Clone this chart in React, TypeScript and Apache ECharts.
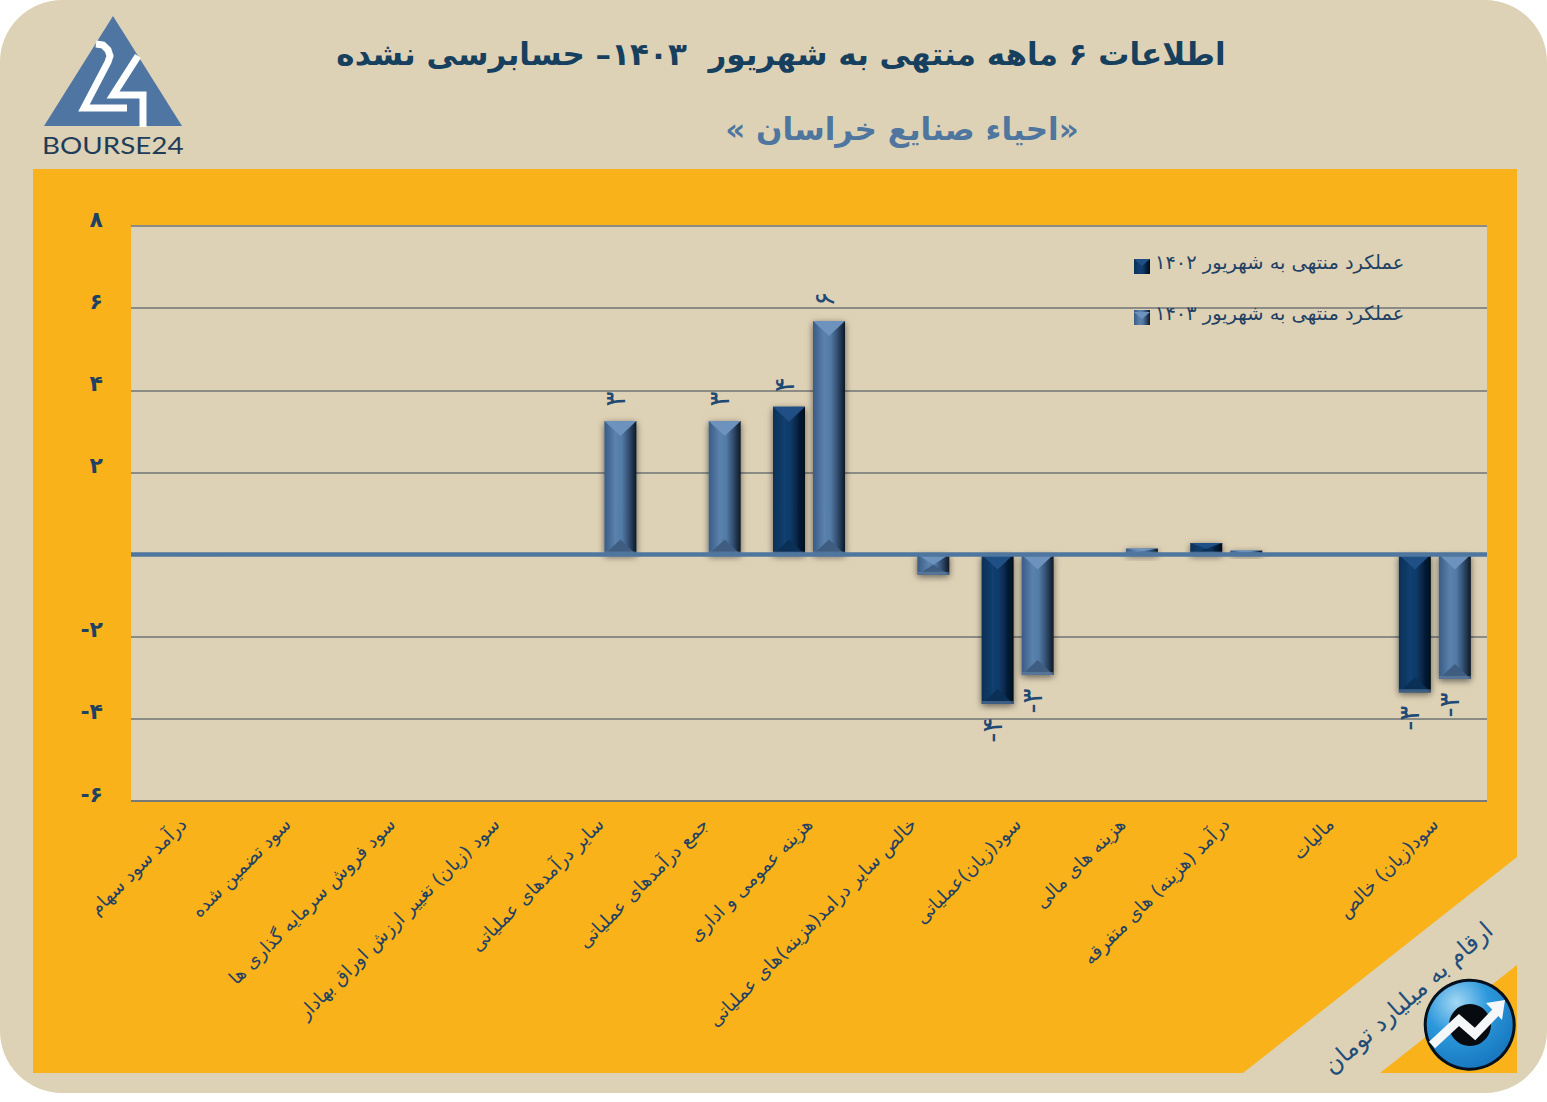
import React, { useEffect, useRef } from "react";
import * as echarts from "echarts";

const FONT = "'DejaVu Sans', sans-serif";
const titleMain = "اطلاعات ۶ ماهه منتهی به شهریور  ۱۴۰۳– حسابرسی نشده";
const titleSub = "\u200F«احیاء صنایع خراسان »\u200F";
const unitNote = "ارقام به میلیارد تومان";
const brand = "BOURSE24";
const categories = [
  "درآمد سود سهام",
  "سود تضمین شده",
  "سود فروش سرمایه گذاری ها",
  "سود (زیان) تغییر ارزش اوراق بهادار",
  "سایر درآمدهای عملیاتی",
  "جمع درآمدهای عملیاتی",
  "هزینه عمومی و اداری",
  "خالص سایر درامد(هزینه)های عملیاتی",
  "سود(زیان)عملیاتی",
  "هزینه های مالی",
  "درآمد (هزینه) های متفرقه",
  "مالیات",
  "سود(زیان) خالص",
];
const seriesName1402 = "عملکرد منتهی به شهریور ۱۴۰۲";
const seriesName1403 = "عملکرد منتهی به شهریور ۱۴۰۳";
const values1402 = [null, null, null, null, null, null, 3.6, null, -3.64, null, 0.28, null, -3.35];
const values1403 = [-0.02, null, null, null, 3.25, 3.25, 5.69, -0.49, -2.93, 0.15, 0.1, null, -3.03];

const toFa = (n: number) =>
  (n < 0 ? "-" : "") + String(Math.abs(n)).replace(/\d/g, (d) => "۰۱۲۳۴۵۶۷۸۹"[+d]);

const grad = (stops: string[]) =>
  new echarts.graphic.LinearGradient(
    0, 0, 1, 0,
    stops.map((color, i) => ({ offset: [0, 0.35, 0.55, 0.78, 1][i], color }))
  );
const lightFill = () => grad(["#3a5c85", "#5b82ad", "#527aa5", "#2f4a6b", "#0e1824"]);
const darkFill = () => grad(["#0a3056", "#123f70", "#0f3a69", "#06203e", "#010c18"]);

const BAR_W = 32;
const OFFSET = 20;

const bevel = (dir: number, top: string, bottom: string) => (_: any, api: any) => {
  const v = api.value(1);
  if (v == null || isNaN(v)) return null;
  const end = api.coord([api.value(0), v]);
  const base = api.coord([api.value(0), 0]);
  const xc = end[0] + dir * OFFSET;
  const x0 = xc - BAR_W / 2;
  const x1 = xc + BAR_W / 2;
  const y0 = Math.min(end[1], base[1]);
  const y1 = Math.max(end[1], base[1]);
  const d = Math.min(15, (y1 - y0) / 2);
  return {
    type: "group",
    children: [
      { type: "polygon", shape: { points: [[x0, y0], [x1, y0], [xc, y0 + d]] }, style: { fill: top } },
      { type: "polygon", shape: { points: [[x0, y1], [x1, y1], [xc, y1 - d]] }, style: { fill: bottom } },
      { type: "rect", shape: { x: x0, y: y1 - Math.min(3, d), width: BAR_W, height: Math.min(3, d) }, style: { fill: "rgba(110,140,175,0.5)" } },
    ],
  };
};

const barLabel = {
  show: true,
  position: "outside" as any,
  rotate: 90,
  align: "center",
  verticalAlign: "middle",
  offset: [0, -5],
  fontFamily: FONT,
  fontSize: 28,
  color: "#1f4a75",
  formatter: (p: any) => {
    const r = Math.round(p.value);
    return r === 0 ? "" : toFa(r);
  },
};

const barData = (vals: (number | null)[]) =>
  vals.map((v) => (v == null ? null : { value: v, label: { distance: v < 0 ? 26 : 22 } }));

const barShadow = { shadowColor: "rgba(0,0,0,0.55)", shadowBlur: 7, shadowOffsetY: 2 };
const toPairs = (vals: (number | null)[]) => vals.map((v, i) => [i, v]);

export default function App() {
  const ref = useRef<HTMLDivElement>(null);
  useEffect(() => {
    const chart = echarts.init(ref.current!, null, { renderer: "svg" });
    chart.setOption({
      animation: false,
      backgroundColor: "#ffffff",
      textStyle: { fontFamily: FONT },
      title: [
        {
          text: titleMain,
          left: 776,
          top: 33,
          textAlign: "center",
          textStyle: { fontFamily: FONT, fontSize: 31, fontWeight: "bold", color: "#17405f" },
        },
        {
          text: titleSub,
          left: 897,
          top: 108,
          textAlign: "center",
          textStyle: { fontFamily: FONT, fontSize: 31, fontWeight: "bold", color: "#4f769f" },
        },
      ],
      legend: {
        orient: "vertical",
        left: 1134,
        top: 253,
        padding: 0,
        itemWidth: 16,
        itemHeight: 15,
        itemGap: 30,
        icon: "rect",
        data: [seriesName1402, seriesName1403],
        formatter: (name: string) => `{t|${name}}`,
        textStyle: {
          rich: { t: { fontFamily: FONT, fontSize: 19.4, color: "#1f4163", padding: [0, 0, 8, 0] } },
        },
      },
      grid: {
        left: 131,
        right: 60,
        top: 226,
        bottom: 301,
        show: true,
        backgroundColor: "#ded2b6",
        borderWidth: 0,
      },
      xAxis: [
        {
          type: "category",
          data: categories,
          position: "bottom",
          axisLine: { onZero: false, lineStyle: { color: "#777a78", width: 2, cap: "butt" } },
          axisTick: { show: false },
          axisLabel: {
            interval: 0,
            rotate: 45,
            margin: 20,
            fontFamily: FONT,
            fontSize: 18.5,
            color: "#1f4163",
          },
        },
        {
          type: "category",
          data: categories,
          z: 20,
          axisLine: { onZero: true, lineStyle: { color: "#4f769f", width: 4.5, cap: "butt" } },
          axisTick: { show: false },
          axisLabel: { show: false },
        },
      ],
      yAxis: {
        type: "value",
        min: -6,
        max: 8,
        interval: 2,
        axisLine: { show: false },
        axisTick: { show: false },
        splitLine: { lineStyle: { color: "#8b8c86", width: 2 } },
        axisLabel: {
          margin: 28,
          fontFamily: FONT,
          fontSize: 22,
          fontWeight: "bold",
          color: "#1f4163",
          verticalAlign: "bottom",
          lineHeight: 14,
          formatter: (v: number) => (v === 0 ? "" : toFa(v)),
        },
      },
      series: [
        {
          name: seriesName1402,
          type: "bar",
          data: barData(values1402),
          barWidth: BAR_W,
          barGap: "25%",
          z: 3,
          itemStyle: { color: darkFill(), ...barShadow },
          label: barLabel,
        },
        {
          name: seriesName1403,
          type: "bar",
          data: barData(values1403),
          barWidth: BAR_W,
          z: 3,
          itemStyle: { color: lightFill(), ...barShadow },
          label: barLabel,
        },
        {
          name: "bevel1402",
          type: "custom",
          z: 4,
          silent: true,
          data: toPairs(values1402),
          encode: { x: 0, y: 1 },
          renderItem: bevel(-1, "#1f4f85", "#0b3056"),
        },
        {
          name: "bevel1403",
          type: "custom",
          z: 4,
          silent: true,
          data: toPairs(values1403),
          encode: { x: 0, y: 1 },
          renderItem: bevel(1, "#6d92bd", "#3f5d80"),
        },
      ],
      graphic: [
        { type: "rect", z: -20, shape: { x: 0, y: 0, width: 1547, height: 1093, r: 62 }, style: { fill: "#ded2b6" } },
        { type: "rect", z: -19, shape: { x: 33, y: 169, width: 1484, height: 904 }, style: { fill: "#f9b21a" } },
        {
          type: "polygon",
          z: -18,
          shape: { points: [[1517, 857], [1243, 1073], [1380, 1073], [1517, 965]] },
          style: { fill: "#ded2b6" },
        },
        { type: "polygon", z: 10, shape: { points: [[113, 16], [44, 126], [182, 126]] }, style: { fill: "#4f76a3" } },
        {
          type: "polyline",
          z: 11,
          shape: { points: [[96, 44], [103, 45], [108, 50], [110, 56], [108, 62], [84, 108], [127, 108]] },
          style: { stroke: "#ffffff", lineWidth: 7, fill: "none" },
        },
        {
          type: "polyline",
          z: 11,
          shape: { points: [[138, 56], [113, 95], [143, 95], [143, 127]] },
          style: { stroke: "#ffffff", lineWidth: 7, fill: "none" },
        },
        {
          type: "text",
          z: 11,
          x: 42,
          y: 145,
          scaleX: 1.21,
          style: { text: brand, font: "23px Lato, sans-serif", fill: "#1f3d58", align: "left", verticalAlign: "middle" },
        },
        {
          type: "text",
          z: 11,
          x: 1408,
          y: 998,
          rotation: 0.72,
          style: { text: unitNote, font: `24px ${FONT}`, fill: "#1f4e79", align: "center", verticalAlign: "middle" },
        },
        {
          type: "circle",
          z: 12,
          shape: { cx: 1469.7, cy: 1024.7, r: 44.5 },
          style: {
            fill: new echarts.graphic.RadialGradient(0.35, 0.25, 0.8, [
              { offset: 0, color: "#a4d8f4" },
              { offset: 0.45, color: "#2c98dc" },
              { offset: 1, color: "#1675bd" },
            ]),
            stroke: "#05101c",
            lineWidth: 3,
          },
        },
        { type: "circle", z: 13, shape: { cx: 1470, cy: 1025, r: 21 }, style: { fill: "#070b10" } },
        {
          type: "polyline",
          z: 14,
          shape: { points: [[1432, 1045], [1459, 1020], [1475, 1034], [1497, 1011]] },
          style: { stroke: "#f5f7f9", lineWidth: 9, fill: "none" },
        },
        { type: "polygon", z: 14, shape: { points: [[1486, 1003], [1505, 1000], [1502, 1020]] }, style: { fill: "#f5f7f9" } },
        {
          type: "polygon",
          z: 30,
          shape: { points: [[1134, 259], [1150, 259], [1142, 266]] },
          style: { fill: "#1f4f85" },
        },
        {
          type: "polygon",
          z: 30,
          shape: { points: [[1134, 312], [1150, 312], [1142, 319]] },
          style: { fill: "#6d92bd" },
        },
      ],
    });
    return () => chart.dispose();
  }, []);
  return (
    <div
      ref={ref}
      style={{ position: "absolute", left: 0, top: 0, width: 1547, height: 1102 }}
    />
  );
}
